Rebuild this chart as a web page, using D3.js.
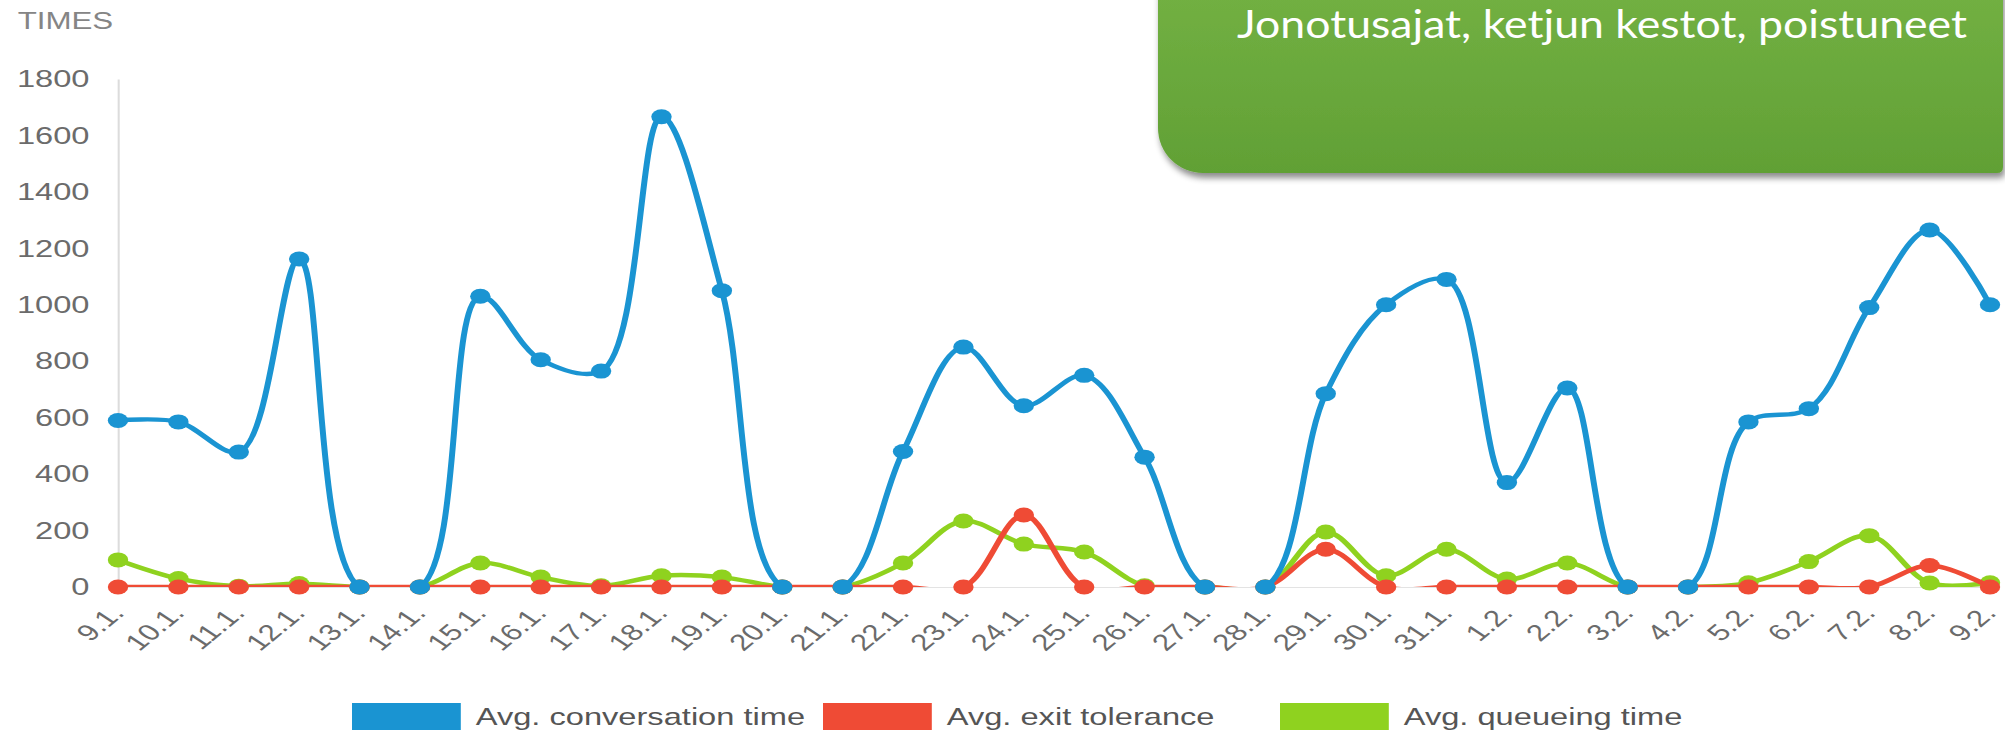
<!DOCTYPE html>
<html>
<head>
<meta charset="utf-8">
<script src="https://cdn.jsdelivr.net/npm/d3@7"></script>
<style>
  body { margin: 0; background: #fff; }
  svg { display: block; }
</style>
</head>
<body>
<svg id="chart" width="2005" height="733"></svg>
<script>
"use strict";

const days = [
  "9.1.", "10.1.", "11.1.", "12.1.", "13.1.", "14.1.", "15.1.", "16.1.",
  "17.1.", "18.1.", "19.1.", "20.1.", "21.1.", "22.1.", "23.1.", "24.1.",
  "25.1.", "26.1.", "27.1.", "28.1.", "29.1.", "30.1.", "31.1.", "1.2.",
  "2.2.", "3.2.", "4.2.", "5.2.", "6.2.", "7.2.", "8.2.", "9.2.",
];
const conversation = [
  590, 585, 478, 1162, 0, 0, 1030, 805, 765, 1666, 1050, 0, 0, 480, 850, 642,
  750, 460, 0, 0, 685, 1000, 1090, 370, 705, 0, 0, 585, 632, 990, 1265, 1000,
];
const exitTolerance = [
  0, 0, 0, 0, 0, 0, 0, 0, 0, 0, 0, 0, 0, 0, 0, 255,
  0, 0, 0, 0, 134, 0, 0, 0, 0, 0, 0, 0, 0, 0, 76, 0,
];
const queueing = [
  96, 30, 3, 12, 0, 0, 85, 35, 4, 40, 35, 0, 0, 85, 234, 152,
  124, 4, 0, 0, 195, 40, 134, 28, 85, 0, 0, 15, 90, 182, 14, 15,
];
const yTicks = [0, 200, 400, 600, 800, 1000, 1200, 1400, 1600, 1800];
const seriesNames = ["Avg. conversation time", "Avg. exit tolerance", "Avg. queueing time"];
const seriesColors = ["#1a94d2", "#ef4b35", "#8fd21f"];

const svg = d3.select("#chart");
const font = "'Liberation Sans', Arial, sans-serif";

// the screenshot is stretched sideways, so the chart is drawn in a stretched group
const stretch = 1.36;
const chart = svg.append("g").attr("transform", `scale(${stretch},1)`);

const x = d3.scalePoint().domain(days).range([118 / stretch, 1990 / stretch]);
const y = d3.scaleLinear().domain([0, 1800]).range([587, 79]);

chart.append("defs")
  .append("clipPath").attr("id", "plot-clip")
  .append("rect")
  .attr("x", 0).attr("y", 0)
  .attr("width", 2005 / stretch).attr("height", y(0));

// y axis
const yAxis = chart.append("g")
  .attr("transform", `translate(${x.range()[0]},0)`)
  .call(d3.axisLeft(y).tickValues(yTicks).tickFormat(d3.format("d")).tickSize(0).tickPadding(21));
yAxis.select(".domain").attr("stroke", "#dcdcdc").attr("stroke-width", 1.5);
yAxis.selectAll("text")
  .attr("fill", "#6b6b6b")
  .style("font-family", font)
  .style("font-size", "24px");

chart.append("text")
  .attr("x", 13).attr("y", 29)
  .attr("fill", "#858585")
  .style("font-family", font)
  .style("font-size", "23px")
  .text("TIMES");

// x axis
const xAxis = chart.append("g")
  .attr("transform", `translate(0,${y(0)})`)
  .call(d3.axisBottom(x).tickSize(0).tickSizeOuter(0));
xAxis.select(".domain").attr("stroke", "#e3e3e3").attr("stroke-width", 1);
xAxis.selectAll("text")
  .attr("x", 0).attr("y", 0).attr("dy", 0)
  .attr("text-anchor", "end")
  .attr("transform", "translate(5,27) rotate(-48)")
  .attr("fill", "#6b6b6b")
  .style("font-family", font)
  .style("font-size", "23px");

const line = d3.line()
  .x((d, i) => x(days[i]))
  .y((d) => y(d))
  .curve(d3.curveCatmullRom.alpha(0.5));

const series = [
  { values: queueing, color: seriesColors[2] },
  { values: exitTolerance, color: seriesColors[1] },
  { values: conversation, color: seriesColors[0] },
];

series.forEach((s) => {
  const g = chart.append("g");
  g.append("path")
    .attr("clip-path", "url(#plot-clip)")
    .attr("d", line(s.values))
    .attr("fill", "none")
    .attr("stroke", s.color)
    .attr("stroke-width", 4.4);
  g.selectAll("circle")
    .data(s.values)
    .enter()
    .append("circle")
    .attr("cx", (d, i) => x(days[i]))
    .attr("cy", (d) => y(d))
    .attr("r", 7.5)
    .attr("fill", s.color);
});

// legend
const legendX = [352, 823, 1280];
seriesNames.forEach((name, i) => {
  const item = chart.append("g")
    .attr("transform", `translate(${legendX[i] / stretch},703)`);
  item.append("rect")
    .attr("width", 80).attr("height", 27)
    .attr("fill", seriesColors[i]);
  item.append("text")
    .attr("x", 91).attr("y", 22)
    .attr("fill", "#555")
    .style("font-family", font)
    .style("font-size", "24px")
    .text(name);
});

// green title box from the slide
const defs = svg.append("defs");
const grad = defs.append("linearGradient")
  .attr("id", "box-grad").attr("x1", 0).attr("y1", 0).attr("x2", 0).attr("y2", 1);
grad.append("stop").attr("offset", "0%").attr("stop-color", "#74b244");
grad.append("stop").attr("offset", "100%").attr("stop-color", "#61a035");
const shadow = defs.append("filter").attr("id", "box-shadow")
  .attr("x", "-5%").attr("y", "-5%").attr("width", "110%").attr("height", "120%");
shadow.append("feDropShadow")
  .attr("dx", 2).attr("dy", 5).attr("stdDeviation", 3)
  .attr("flood-color", "#000").attr("flood-opacity", 0.45);

svg.append("path")
  .attr("d", "M1158,-30 H2003 V167 Q2003,173 1997,173 H1203 A45,45 0 0 1 1158,128 Z")
  .attr("fill", "url(#box-grad)")
  .attr("filter", "url(#box-shadow)");

svg.append("text")
  .attr("x", 1237).attr("y", 38)
  .attr("fill", "#fff")
  .attr("textLength", 730)
  .attr("lengthAdjust", "spacingAndGlyphs")
  .style("font-family", "Lato, 'Open Sans', sans-serif")
  .style("font-size", "39px")
  .text("Jonotusajat, ketjun kestot, poistuneet");
</script>
</body>
</html>
